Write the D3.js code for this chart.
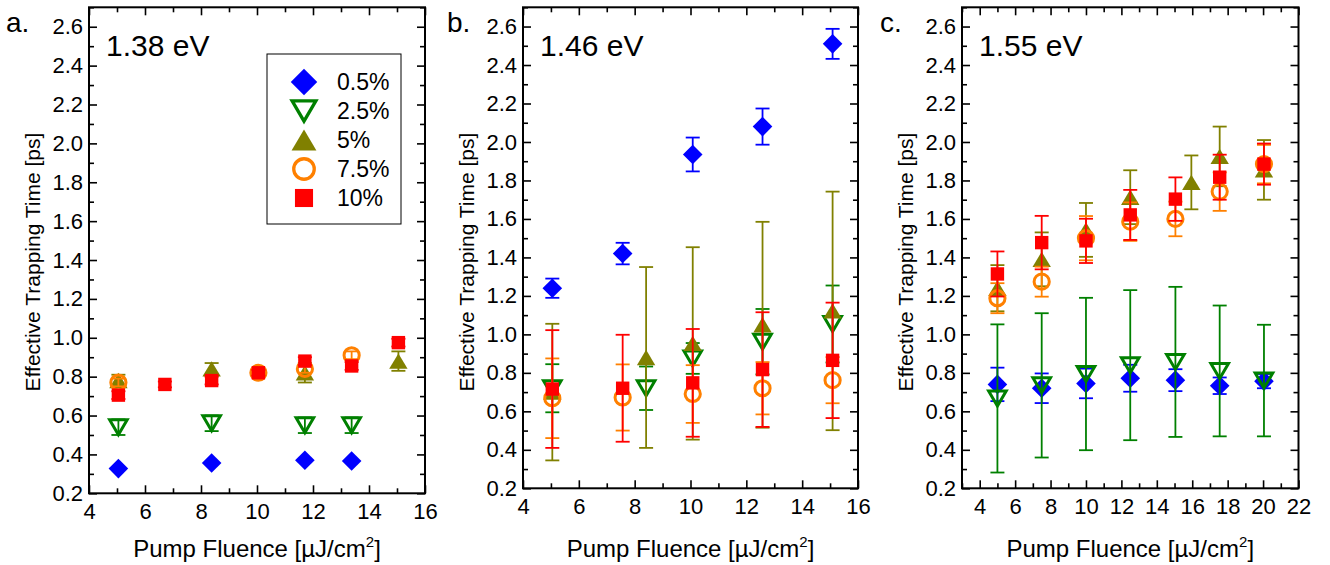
<!DOCTYPE html>
<html><head><meta charset="utf-8">
<script src="https://cdn.jsdelivr.net/npm/d3@7"></script>
<style>
body{margin:0;background:#fff}
svg{display:block}
text{font-family:"Liberation Sans",Arial,Helvetica,sans-serif;fill:#000}
</style>
</head><body>
<svg id="chart" width="1330" height="565"></svg>
<script>
// ---------------- data ----------------
const seriesNames  = ["0.5%", "2.5%", "5%", "7.5%", "10%"];
const seriesColors = ["#0000FF", "#008000", "#808000", "#FF8000", "#FF0000"];
const seriesShapes = ["diamond", "triDown", "triUp", "circle", "square"];
const panelLetters = ["a.", "b.", "c."];
const panelEnergies = ["1.38 eV", "1.46 eV", "1.55 eV"];
const yTickValues = [0.2, 0.4, 0.6, 0.8, 1.0, 1.2, 1.4, 1.6, 1.8, 2.0, 2.2, 2.4, 2.6];
const xTicksAB = [4, 6, 8, 10, 12, 14, 16];
const xTicksC = [4, 6, 8, 10, 12, 14, 16, 18, 20, 22];
const xDomainAB = [4, 16];
const xDomainC = [3, 22];
const yDomain = [0.2, 2.7];

// each point: [fluence, trapping time, error]
// panel a (1.38 eV)
const a_05 = [[5.05, 0.327, 0], [8.38, 0.356, 0], [11.71, 0.370, 0], [13.38, 0.366, 0]];
const a_25 = [[5.05, 0.54, 0.04], [8.38, 0.56, 0.04], [11.71, 0.55, 0.04], [13.38, 0.55, 0.04]];
const a_5  = [[5.05, 0.78, 0.03], [8.38, 0.84, 0.03], [11.71, 0.82, 0.05], [15.05, 0.88, 0.05]];
const a_75 = [[5.05, 0.77, 0.02], [10.05, 0.82, 0.01], [11.71, 0.84, 0.02], [13.38, 0.91, 0.02]];
const a_10 = [[5.05, 0.705, 0.02], [6.71, 0.76, 0.015], [8.38, 0.78, 0.02], [10.05, 0.82, 0.015],
              [11.71, 0.88, 0.02], [13.38, 0.855, 0.02], [15.05, 0.975, 0.02]];
// panel b (1.46 eV)
const b_05 = [[5.05, 1.24, 0.05], [7.57, 1.42, 0.056], [10.08, 1.935, 0.088], [12.58, 2.08, 0.094], [15.09, 2.51, 0.078]];
const b_25 = [[5.05, 0.72, 0.125], [8.41, 0.72, 0.113], [10.08, 0.875, 0.08], [12.58, 0.962, 0.17], [15.09, 1.054, 0.2]];
const b_5  = [[5.05, 0.70, 0.355], [8.41, 0.88, 0.47], [10.08, 0.953, 0.5], [12.58, 1.05, 0.535], [15.09, 1.122, 0.62]];
const b_75 = [[5.05, 0.668, 0.207], [7.57, 0.672, 0.172], [10.08, 0.69, 0.15], [12.58, 0.72, 0.136], [15.09, 0.762, 0.12]];
const b_10 = [[5.05, 0.716, 0.306], [7.57, 0.72, 0.278], [10.08, 0.748, 0.28], [12.58, 0.817, 0.298], [15.09, 0.865, 0.30]];
// panel c (1.55 eV)
const c_05 = [[5.0, 0.74, 0.087], [7.5, 0.72, 0.077], [10.0, 0.745, 0.077], [12.5, 0.772, 0.07],
              [15.05, 0.762, 0.057], [17.55, 0.733, 0.043], [20.05, 0.757, 0.037]];
const c_25 = [[5.0, 0.667, 0.385], [7.5, 0.735, 0.375], [10.0, 0.794, 0.396], [12.5, 0.84, 0.39],
              [15.05, 0.857, 0.39], [17.55, 0.81, 0.34], [20.05, 0.76, 0.29]];
const c_5  = [[5.0, 1.24, 0.12], [7.5, 1.39, 0.14], [10.0, 1.543, 0.14], [12.5, 1.713, 0.14],
              [15.95, 1.79, 0.14], [17.55, 1.925, 0.155], [20.05, 1.855, 0.155]];
const c_75 = [[5.0, 1.188, 0.078], [7.5, 1.274, 0.078], [10.0, 1.50, 0.115], [12.5, 1.586, 0.1],
              [15.05, 1.60, 0.09], [17.55, 1.742, 0.1], [20.05, 1.885, 0.1]];
const c_10 = [[5.0, 1.314, 0.117], [7.5, 1.477, 0.139], [10.0, 1.486, 0.115], [12.5, 1.621, 0.13],
              [15.05, 1.703, 0.113], [17.55, 1.817, 0.117], [20.05, 1.885, 0.107]];

const panelSeries = [[a_05, a_25, a_5, a_75, a_10], [b_05, b_25, b_5, b_75, b_10], [c_05, c_25, c_5, c_75, c_10]];

// ---------------- layout ----------------
const panels = [
  {left: 89,  right: 425,  top: 7.3, bottom: 493.3, xd: xDomainAB, xt: xTicksAB, legend: true},
  {left: 523, right: 858,  top: 7.3, bottom: 488.3, xd: xDomainAB, xt: xTicksAB, legend: false},
  {left: 962, right: 1298.5, top: 7.3, bottom: 488.3, xd: xDomainC, xt: xTicksC, legend: false}
];
const letterX = [6, 447, 880];

const svg = d3.select("#chart");

function shapePath(shape, s) {
  switch (shape) {
    case "diamond": { const r = 9.8 * s; return `M0,${-r}L${r},0L0,${r}L${-r},0Z`; }
    case "triDown": { const w = 8.8 * s, h = 7.5 * s; return `M${-w},${-h}L${w},${-h}L0,${h}Z`; }
    case "triUp":   { const w = 9.2 * s, h = 7.7 * s; return `M0,${-h}L${w},${h}L${-w},${h}Z`; }
    case "circle":  { const r = 7.6 * s; return `M${r},0A${r},${r} 0 1,1 ${-r},0A${r},${r} 0 1,1 ${r},0Z`; }
    case "square":  { const r = 6.7 * s; return `M${-r},${-r}H${r}V${r}H${-r}Z`; }
  }
}
function styleShape(sel, shape, color, s) {
  const open = (shape === "triDown" || shape === "circle");
  sel.attr("d", shapePath(shape, s))
     .attr("fill", open ? "none" : color)
     .attr("stroke", open ? color : "none")
     .attr("stroke-width", open ? 3 * Math.min(s, 1.1) : 0)
     .attr("stroke-linejoin", "miter");
}

panels.forEach((p, pi) => {
  const x = d3.scaleLinear().domain(p.xd).range([p.left, p.right]);
  const y = d3.scaleLinear().domain(yDomain).range([p.bottom, p.top]);
  const g = svg.append("g");

  const xMinor = d3.range(Math.ceil(p.xd[0]), p.xd[1] + 0.001, 1).filter(v => !p.xt.includes(v));
  const yMinor = d3.range(0.3, 2.7, 0.2).map(v => +v.toFixed(1));
  const W = p.right - p.left, H = p.bottom - p.top;

  const styleAxis = sel => {
    sel.select(".domain").remove();
    sel.selectAll(".tick line").attr("stroke", "#000").attr("stroke-width", 1.6);
    sel.selectAll(".tick text").attr("font-size", 22).attr("fill", "#000")
       .attr("font-family", '"Liberation Sans", Arial, sans-serif');
  };

  // bottom
  g.append("g").attr("transform", `translate(0,${p.bottom})`)
    .call(d3.axisBottom(x).tickValues(p.xt).tickSize(-8).tickPadding(10).tickFormat(d3.format("d"))).call(styleAxis);
  g.append("g").attr("transform", `translate(0,${p.bottom})`)
    .call(d3.axisBottom(x).tickValues(xMinor).tickSize(-5).tickFormat("")).call(styleAxis);
  // top
  g.append("g").attr("transform", `translate(0,${p.top})`)
    .call(d3.axisTop(x).tickValues(p.xt).tickSize(-8).tickFormat("")).call(styleAxis);
  g.append("g").attr("transform", `translate(0,${p.top})`)
    .call(d3.axisTop(x).tickValues(xMinor).tickSize(-5).tickFormat("")).call(styleAxis);
  // left
  g.append("g").attr("transform", `translate(${p.left},0)`)
    .call(d3.axisLeft(y).tickValues(yTickValues).tickSize(-8).tickPadding(6).tickFormat(d3.format(".1f"))).call(styleAxis);
  g.append("g").attr("transform", `translate(${p.left},0)`)
    .call(d3.axisLeft(y).tickValues(yMinor).tickSize(-5).tickFormat("")).call(styleAxis);
  // right
  g.append("g").attr("transform", `translate(${p.right},0)`)
    .call(d3.axisRight(y).tickValues(yTickValues).tickSize(-8).tickFormat("")).call(styleAxis);
  g.append("g").attr("transform", `translate(${p.right},0)`)
    .call(d3.axisRight(y).tickValues(yMinor).tickSize(-5).tickFormat("")).call(styleAxis);

  // frame
  g.append("rect").attr("x", p.left).attr("y", p.top).attr("width", W).attr("height", H)
    .attr("fill", "none").attr("stroke", "#000").attr("stroke-width", 2);

  // data
  panelSeries[pi].forEach((data, si) => {
    const col = seriesColors[si];
    const sg = g.append("g");
    const eb = sg.selectAll("g.eb").data(data.filter(d => d[2] > 0)).join("g");
    eb.append("line").attr("x1", d => x(d[0])).attr("x2", d => x(d[0]))
      .attr("y1", d => y(d[1] - d[2])).attr("y2", d => y(d[1] + d[2]))
      .attr("stroke", col).attr("stroke-width", 1.8);
    [-1, 1].forEach(sg2 => {
      eb.append("line").attr("x1", d => x(d[0]) - 7).attr("x2", d => x(d[0]) + 7)
        .attr("y1", d => y(d[1] + sg2 * d[2])).attr("y2", d => y(d[1] + sg2 * d[2]))
        .attr("stroke", col).attr("stroke-width", 1.8);
    });
    sg.selectAll("path.m").data(data).join("path")
      .attr("transform", d => `translate(${x(d[0])},${y(d[1])})`)
      .call(sel => styleShape(sel, seriesShapes[si], col, 1));
  });

  // labels
  svg.append("text").attr("x", letterX[pi]).attr("y", 32).attr("font-size", 28).text(panelLetters[pi]);
  svg.append("text").attr("x", p.left + 17).attr("y", 56).attr("font-size", 30).text(panelEnergies[pi]);

  const xt = svg.append("text").attr("x", (p.left + p.right) / 2).attr("y", 557)
    .attr("text-anchor", "middle").attr("font-size", 24);
  xt.append("tspan").text("Pump Fluence [\u00B5J/cm");
  xt.append("tspan").attr("font-size", 15).attr("dy", -10).text("2");
  xt.append("tspan").attr("dy", 10).text("]");

  svg.append("text").attr("transform", `translate(${p.left - 49},262) rotate(-90)`)
    .attr("text-anchor", "middle").attr("font-size", 21).text("Effective Trapping Time [ps]");

  if (p.legend) {
    const lg = svg.append("g");
    lg.append("rect").attr("x", 267).attr("y", 54).attr("width", 134).attr("height", 170)
      .attr("fill", "#fff").attr("stroke", "#000").attr("stroke-width", 1);
    seriesNames.forEach((n, i) => {
      const cy = 82 + i * 29;
      lg.append("path").attr("transform", `translate(304,${cy})`)
        .call(sel => styleShape(sel, seriesShapes[i], seriesColors[i], 1.35));
      lg.append("text").attr("x", 337).attr("y", cy + 8).attr("font-size", 23).text(n);
    });
  }
});
</script>
</body></html>
